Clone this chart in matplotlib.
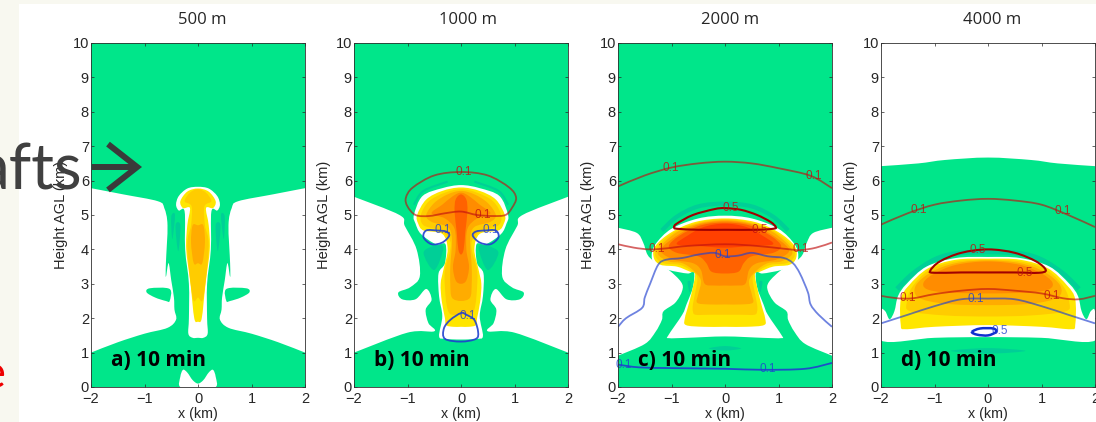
import matplotlib
matplotlib.use("Agg")
import matplotlib.pyplot as plt
from matplotlib.patches import Rectangle, PathPatch, FancyArrowPatch
from matplotlib.path import Path

W, H = 1096, 422
titles = ["500 m", "1000 m", "2000 m", "4000 m"]
panel_labels = ["a) 10 min", "b) 10 min", "c) 10 min", "d) 10 min"]
panel_left_px = [91, 354, 618, 881]
title_offset = [0.075, 0.13, 0.09, 0.08]
yticks = list(range(0, 11))
xticks = [-2, -1, 0, 1, 2]
xtick_labels = ["\u22122", "\u22121", "0", "1", "2"]

GREEN = "#00e68a"
TEAL = "#00cf97"
LEVELS = ["#ffe600", "#ffcc00", "#ffac00", "#ff8c00", "#ff6200", "#ff4000"]
RED = "#c01010"
BLUE = "#2040d0"

# ---- panel a (right-hand half outlines, mirrored about x=0)
a_side = [(2,5.78),(1.4,5.6),(0.75,5.4),(0.63,5.2),(0.57,4.7),(0.6,3.6),(0.6,3.2),(0.55,3.6),(0.5,3.1),(0.45,2.6),(0.44,2.25),(0.41,1.96),(0.57,1.72),(1.0,1.55),(1.5,1.3),(2,1.0)]
a_arm = [(0.53,2.85),(0.9,2.87),(0.96,2.75),(0.8,2.6),(0.6,2.5),(0.53,2.5)]
a_foot = [(0,0.1),(0.1,0.2),(0.2,0.42),(0.28,0.5),(0.33,0.3),(0.33,0),(0,0)]
a_white = [(0,5.82),(0.2,5.77),(0.36,5.55),(0.41,5.3),(0.36,5.13),(0.25,5.1),(0.24,4),(0.17,3),(0.17,2),(0.18,1.55),(0.1,1.43),(0,1.43)]
a_lv = [
 [(0,5.77),(0.2,5.68),(0.33,5.4),(0.28,5.2),(0.15,5.2),(0.2,4.7),(0.22,4),(0.14,3),(0.07,2),(0,1.9)],
 [(0,5.75),(0.15,5.65),(0.25,5.4),(0.12,5.25),(0.13,4.7),(0.2,4.1),(0.1,2.6),(0,2.6)],
 [(0,4.7),(0.1,4.7),(0.13,4.2),(0.08,3.6),(0,3.6)],
]
a_teal = [[(0.48,4.3),(0.5,4.95),(0.43,5)], [(0.37,3.95),(0.42,4.7),(0.33,4.7)]]

# ---- panel b
b_side = [(2,5.53),(1.15,5.0),(1.05,4.68),(0.83,4.0),(0.77,3.22),(0.95,2.9),(1.17,2.75),(1.1,2.55),(0.85,2.55),(0.65,2.85),(0.55,2.54),(0.66,2.25),(0.61,1.86),(0.5,1.62),(1,1.58),(2,1.0)]
b_white = [(0,5.87),(0.35,5.78),(0.72,5.55),(0.88,5.0),(0.85,4.75),(0.75,4.45),(0.47,4.15),(0.29,4.15),(0.3,3.6),(0.42,3.3),(0.41,2.64),(0.35,2.06),(0.41,1.48),(0.3,1.4),(0,1.38)]
b_lv = [
 [(0,5.8),(0.35,5.7),(0.65,5.45),(0.82,5.0),(0.8,4.75),(0.7,4.55),(0.35,4.45),(0.25,4.0),(0.33,3.4),(0.38,3),(0.36,2.5),(0.3,2.0),(0.28,1.8),(0.15,1.75),(0,1.75)],
 [(0,5.75),(0.3,5.65),(0.6,5.4),(0.75,5),(0.7,4.7),(0.4,4.55),(0.22,4.3),(0.2,4.0),(0.3,3.4),(0.3,2.9),(0.27,2.4),(0.2,2.12),(0,2.1)],
 [(0,5.7),(0.25,5.6),(0.5,5.35),(0.65,5),(0.55,4.8),(0.25,4.65),(0.17,4.3),(0.2,3.5),(0.2,3.0),(0.17,2.6),(0,2.5)],
 [(0,5.65),(0.15,5.55),(0.35,5.3),(0.55,5.05),(0.3,4.9),(0.12,4.6),(0.1,4),(0.15,3.5),(0.1,3.1),(0,3)],
 [(0,5.6),(0.1,5.45),(0.12,5.1),(0.08,4.5),(0.05,4),(0,3.85)],
]
b_teal = [[(0.5,3.4),(0.7,3.9),(0.5,4.1),(0.33,4.05)]]
b_teal_arc = [(0.25,5.97),(0.7,5.7),(0.88,5.3)]
b_red = [(-0.85,5.0),(-1.0,5.25),(-1.03,5.5),(-0.9,5.8),(-0.5,6.15),(0,6.25),(0.5,6.15),(0.9,5.8),(1.03,5.5),(0.95,5.2),(0.83,5.0),(0.6,4.97),(0.3,5.0),(0,5.1),(-0.3,5.05),(-0.6,4.97),(-0.85,5.0)]
b_blue1 = [(0.22,4.4),(0.28,4.52),(0.45,4.55),(0.65,4.55),(0.7,4.35),(0.55,4.15),(0.35,4.2),(0.22,4.4)]
b_blue2 = [(-0.22,4.4),(-0.28,4.52),(-0.45,4.55),(-0.65,4.55),(-0.7,4.35),(-0.55,4.15),(-0.35,4.2),(-0.22,4.4)]
b_blue3 = [(-0.3,1.4),(-0.32,1.7),(-0.2,1.95),(0,2.15),(0.1,2.1),(0.25,1.95),(0.32,1.6),(0.28,1.4),(0,1.32),(-0.3,1.4)]

# ---- panel c
c_side = [(2,4.63),(1.65,4.48),(1.53,4.2),(1.45,3.85),(1.32,3.65),(1.05,3.4),(0.82,3.05),(0.8,2.8),(0.93,2.45),(1.15,2.2),(1.18,1.95),(1.3,1.6),(1.5,1.25),(2,0.91)]
c_white = [(0,4.98),(0.5,4.9),(1.0,4.6),(1.3,4.15),(1.37,3.8),(1.3,3.55),(1.05,3.4),(0.7,3.3),(0.58,3.35),(0.6,2.9),(0.72,2.4),(0.8,2.1),(1.06,1.5),(1.05,1.42),(0.7,1.43),(0,1.47)]
c_lv = [
 [(0,4.9),(0.55,4.8),(1,4.5),(1.3,4.1),(1.33,3.75),(1.2,3.55),(0.9,3.5),(0.65,3.35),(0.56,3.3),(0.6,2.9),(0.68,2.4),(0.75,2.0),(0.73,1.8),(0.4,1.75),(0,1.75)],
 [(0,4.88),(0.5,4.78),(0.95,4.5),(1.25,4.1),(1.3,3.8),(1.15,3.6),(0.85,3.55),(0.65,3.4),(0.52,3.2),(0.55,2.8),(0.6,2.4),(0.6,2.2),(0.55,2.1),(0.3,2.1),(0,2.1)],
 [(0,4.85),(0.5,4.75),(0.9,4.5),(1.2,4.1),(1.25,3.85),(1.05,3.65),(0.8,3.6),(0.6,3.4),(0.45,3.1),(0.5,2.7),(0.52,2.45),(0.3,2.4),(0,2.4)],
 [(0,4.82),(0.5,4.72),(0.85,4.45),(1.15,4.1),(1.18,3.9),(0.95,3.7),(0.6,3.6),(0.45,3.4),(0.38,3.0),(0.2,2.95),(0,2.95)],
 [(0,4.78),(0.45,4.7),(0.85,4.4),(1.05,4.1),(0.9,3.9),(0.5,3.8),(0.35,3.6),(0.25,3.35),(0,3.3)],
 [(0,4.75),(0.4,4.65),(0.7,4.4),(0.9,4.15),(0.5,4.1),(0,4.05)],
]
c_teal_arc = [(0,5.33),(0.5,5.25),(0.9,4.95),(1.18,4.55)]
c_teal = [[(0.66,2.75),(0.7,3.05),(0.64,3.05)]]
c_ell = [(0,1.19),(0.3,1.12),(0,1.06)]
c_red_top = [(-2,5.83),(-1.5,6.15),(-1,6.38),(-0.5,6.5),(0,6.55),(0.5,6.5),(1,6.36),(1.6,6.14),(2,5.78)]
c_red_05 = [(-0.95,4.65),(-0.9,4.75),(-0.6,5.0),(-0.2,5.17),(0,5.2),(0.3,5.15),(0.6,5),(0.85,4.8),(0.95,4.65),(0.9,4.6),(0.6,4.57),(0,4.57),(-0.5,4.57),(-0.9,4.6),(-0.95,4.65)]
c_red_01 = [(-2,4.15),(-1.7,4.05),(-1.4,4.0),(-1.1,4.03),(-0.7,4.1),(0,4.15),(0.6,4.1),(1.1,4.02),(1.4,3.98),(1.7,4.05),(2,4.2)]
c_blue_01 = [(-2,1.75),(-1.85,2),(-1.55,2.3),(-1.5,2.6),(-1.4,3.0),(-1.25,3.55),(-1.1,3.7),(-0.8,3.75),(-0.5,3.85),(-0.2,3.9),(0,3.8),(0.25,3.82),(0.5,3.9),(0.8,3.8),(1.1,3.75),(1.27,3.6),(1.4,3.3),(1.55,2.75),(1.6,2.4),(1.75,2.1),(2,1.75)]
c_blue_low = [(-2,0.65),(-1.6,0.57),(-1,0.55),(0,0.53),(0.7,0.5),(1.5,0.53),(2,0.7)]

# ---- panel d
d_top = [(-2,6.42),(-1.3,6.5),(-0.8,6.6),(0,6.67),(0.8,6.6),(1.3,6.5),(2,6.42)]
d_white = [(0,3.78),(0.6,3.75),(1.15,3.5),(1.52,3.0),(1.68,2.65),(1.75,2.2),(1.84,1.97),(1.92,2.2),(2,2.2),(2,1.35),(1,1.43),(0,1.45)]
d_lv = [
 [(0,3.73),(0.6,3.7),(1.12,3.45),(1.48,2.95),(1.63,2.55),(1.63,1.8),(1.55,1.68),(1,1.75),(0,1.8)],
 [(0,3.7),(0.6,3.65),(1.1,3.4),(1.42,2.9),(1.52,2.45),(1.45,2.2),(0.8,2.08),(0,2.05)],
 [(0,3.68),(0.6,3.6),(1.05,3.35),(1.35,2.95),(1.3,2.6),(0.8,2.42),(0,2.38)],
 [(0,3.65),(0.6,3.55),(1.0,3.3),(1.2,3.05),(1.15,2.85),(0.8,2.75),(0,2.72)],
]
d_teal_arc = [(0,3.93),(0.6,3.88),(1.0,3.7),(1.4,3.3),(1.7,2.85)]
d_ell = [(0,1.13),(0.7,1.05),(0,0.97)]
d_red_top = [(-2,4.72),(-1.5,5.05),(-1,5.3),(-0.5,5.42),(0,5.47),(0.5,5.42),(1,5.3),(1.5,5.0),(2,4.65)]
d_red_05 = [(-1.08,3.38),(-0.9,3.65),(-0.5,3.9),(0,4.0),(0.5,3.9),(0.9,3.65),(1.08,3.4),(0.95,3.32),(0.5,3.33),(0,3.33),(-0.5,3.33),(-1,3.32),(-1.08,3.38)]
d_red_01 = [(-2,2.65),(-1.7,2.58),(-1.4,2.58),(-1,2.7),(-0.5,2.8),(0,2.85),(0.5,2.8),(1,2.72),(1.4,2.58),(1.7,2.55),(2,2.65)]
d_blue_01 = [(-2,1.85),(-1.5,2.1),(-1,2.35),(-0.5,2.55),(0,2.57),(0.5,2.55),(1,2.35),(1.5,2.1),(2,1.85)]
d_blue_05 = [(-0.3,1.6),(-0.15,1.7),(0.1,1.7),(0.15,1.6),(0,1.5),(-0.2,1.52),(-0.3,1.6)]


def mirror(half):
    return half + [(-x, y) for x, y in reversed(half) if x != 0]


def spline(pts, closed=True):
    """A Bezier path through the read-off vertices."""
    if closed and pts[0] == pts[-1]:
        pts = pts[:-1]
    n = len(pts)
    verts, codes = [pts[0]], [Path.MOVETO]
    for i in range(n if closed else n - 1):
        if closed:
            p0, p1, p2, p3 = pts[(i - 1) % n], pts[i], pts[(i + 1) % n], pts[(i + 2) % n]
        else:
            p0, p1, p2, p3 = pts[max(i - 1, 0)], pts[i], pts[i + 1], pts[min(i + 2, n - 1)]
        c1 = (p1[0] + (p2[0] - p0[0]) / 6, p1[1] + (p2[1] - p0[1]) / 6)
        c2 = (p2[0] - (p3[0] - p1[0]) / 6, p2[1] - (p3[1] - p1[1]) / 6)
        verts += [c1, c2, p2]
        codes += [Path.CURVE4] * 3
    return Path(verts, codes)


def fill(ax, pts, color, z, closed=True, tail=()):
    path = spline(pts, closed)
    if not closed:
        extra = list(tail) + [tuple(path.vertices[0])]
        path = Path(list(path.vertices) + extra, list(path.codes) + [Path.LINETO] * len(extra))
    ax.add_patch(PathPatch(path, facecolor=color, edgecolor="none", lw=0, zorder=z))


def both(ax, half, color, z, closed=True):
    fill(ax, half, color, z, closed)
    fill(ax, [(-x, y) for x, y in half], color, z, closed)


def line(ax, pts, color, lw=1.3, alpha=0.65):
    closed = pts[0] == pts[-1]
    ax.add_patch(PathPatch(spline(pts, closed), facecolor="none", edgecolor=color, lw=lw,
                           alpha=alpha, zorder=8))


def arc(ax, half, color=TEAL, lw=2.5):
    pts = [(-x, y) for x, y in reversed(half) if x != 0] + half
    if half[0][0] != 0:
        ax.add_patch(PathPatch(spline(half, False), facecolor="none", edgecolor=color, lw=lw, zorder=2))
        pts = [(-x, y) for x, y in half]
    ax.add_patch(PathPatch(spline(pts, False), facecolor="none", edgecolor=color, lw=lw, zorder=2))


def ell(ax, half):
    fill(ax, mirror(half), TEAL, 2)


def lab(ax, x, y, s, color):
    ax.text(x, y, s, color=color, fontsize=8.5, ha="center", va="center", zorder=9,
            family="Liberation Sans", alpha=0.8)


fig = plt.figure(figsize=(W / 100, H / 100), dpi=100, facecolor="#f8f8f0")
fig.add_artist(Rectangle((19 / W, 0), 1 - 19 / W, 1 - 4 / H, transform=fig.transFigure,
                         facecolor="white", edgecolor="none", zorder=-5))

axes = []
for i, left in enumerate(panel_left_px):
    ax = fig.add_axes([left / W, (H - 387) / H, 214 / W, 344 / H], zorder=1)
    axes.append(ax)
    ax.set_xlim(-2, 2)
    ax.set_ylim(0, 10)
    ax.set_xticks(xticks)
    ax.set_xticklabels(xtick_labels)
    ax.set_yticks(yticks)
    ax.tick_params(direction="in", top=True, right=True, length=2.5, width=0.5,
                   labelsize=10.5, pad=1.5, colors="#262626")
    ax.tick_params(axis="x", pad=3.5)
    for s in ax.spines.values():
        s.set_linewidth(0.6)
        s.set_color("#303030")
        s.set_zorder(10)
    for t in ax.get_xticklabels() + ax.get_yticklabels():
        t.set_family("Liberation Sans")
    ax.set_xlabel("x (km)", fontsize=10.3, family="Liberation Sans", labelpad=0.5, color="#262626")
    ax.set_ylabel("Height AGL (km)", fontsize=10.5, family="Liberation Sans", labelpad=3.5, color="#262626")
    ax.text(title_offset[i], 10.68, titles[i], fontsize=12, family="Open Sans",
            ha="center", va="center", color="#262626", clip_on=False)
    ax.text(-1.63, 0.78, panel_labels[i], fontsize=15, fontweight="bold", family="Open Sans",
            va="center", ha="left", color="black", zorder=12)
    ax.set_facecolor(GREEN if i < 3 else "white")

# a
ax = axes[0]
both(ax, a_side, "white", 1, closed=False)
both(ax, a_arm, GREEN, 1.5)
fill(ax, mirror(a_foot), "white", 1)
for t in a_teal:
    both(ax, t, TEAL, 2)
fill(ax, mirror(a_white), "white", 3)
for j, lv in enumerate(a_lv):
    fill(ax, mirror(lv), LEVELS[j], 4 + j * 0.1)

# b
ax = axes[1]
both(ax, b_side, "white", 1, closed=False)
both(ax, b_teal[0], TEAL, 2)
arc(ax, b_teal_arc, lw=1.5)
fill(ax, mirror(b_white), "white", 3)
for j, lv in enumerate(b_lv):
    fill(ax, mirror(lv), LEVELS[j], 4 + j * 0.1)
line(ax, b_red, RED)
for c in (b_blue1, b_blue2, b_blue3):
    line(ax, c, BLUE, alpha=0.9)
lab(ax, 0.05, 6.25, "0.1", RED)
lab(ax, 0.41, 5.0, "0.1", RED)
lab(ax, -0.35, 4.55, "0.1", BLUE)
lab(ax, 0.55, 4.55, "0.1", BLUE)
lab(ax, 0.12, 2.05, "0.1", BLUE)

# c
ax = axes[2]
both(ax, c_side, "white", 1, closed=False)
arc(ax, c_teal_arc, lw=3)
both(ax, c_teal[0], TEAL, 2)
ell(ax, c_ell)
fill(ax, mirror(c_white), "white", 3)
for j, lv in enumerate(c_lv):
    fill(ax, mirror(lv), LEVELS[j], 4 + j * 0.1)
line(ax, c_red_top, RED)
line(ax, c_red_05, "#a00000", lw=1.5, alpha=1)
line(ax, c_red_01, RED)
line(ax, c_blue_01, BLUE)
line(ax, c_blue_low, BLUE, alpha=0.9)
for x, y, s, col in [(-1.02, 6.38, "0.1", RED), (1.65, 6.14, "0.1", RED), (0.1, 5.2, "0.5", RED),
                     (0.65, 4.57, "0.5", RED), (-1.27, 4.0, "0.1", RED), (1.42, 4.0, "0.1", RED),
                     (-0.05, 3.83, "0.1", BLUE), (-1.9, 0.63, "0.1", BLUE), (0.8, 0.52, "0.1", BLUE)]:
    lab(ax, x, y, s, col)

# d
ax = axes[3]
fill(ax, d_top, GREEN, 0.5, closed=False, tail=[(2, 0), (-2, 0)])
arc(ax, d_teal_arc, lw=3.5)
ell(ax, d_ell)
fill(ax, mirror(d_white), "white", 3)
for j, lv in enumerate(d_lv):
    fill(ax, mirror(lv), LEVELS[j], 4 + j * 0.1)
line(ax, d_red_top, RED)
line(ax, d_red_05, "#a00000", lw=1.5, alpha=1)
line(ax, d_red_01, RED)
line(ax, d_blue_01, BLUE)
line(ax, d_blue_05, "#1030d0", lw=1.8, alpha=1)
for x, y, s, col in [(-1.3, 5.15, "0.1", RED), (1.4, 5.13, "0.1", RED), (-0.2, 3.97, "0.5", RED),
                     (0.68, 3.3, "0.5", RED), (-1.5, 2.6, "0.1", RED), (1.2, 2.65, "0.1", RED),
                     (-0.22, 2.55, "0.1", BLUE), (0.22, 1.62, "0.5", BLUE)]:
    lab(ax, x, y, s, col)

# Slide text lying over the figure
fig.text(83 / W, 1 - 190 / H, "afts", fontsize=46, family="Lato", fontweight="normal",
         color="#404040", ha="right", va="baseline", zorder=20)
fig.add_artist(FancyArrowPatch((92 / W, 1 - 167 / H), (142 / W, 1 - 167 / H), transform=fig.transFigure,
                               arrowstyle="->,head_length=21,head_width=16.5", mutation_scale=1,
                               lw=4.3, color="#3a3a3a", shrinkA=0, shrinkB=0, zorder=20,
                               joinstyle="miter", capstyle="butt"))
fig.text(6 / W, 1 - 388 / H, "e", fontsize=34, family="Lato", fontweight="normal",
         color="#ee0000", ha="right", va="baseline", zorder=20)

fig.savefig("out.png", dpi=100, facecolor=fig.get_facecolor())
